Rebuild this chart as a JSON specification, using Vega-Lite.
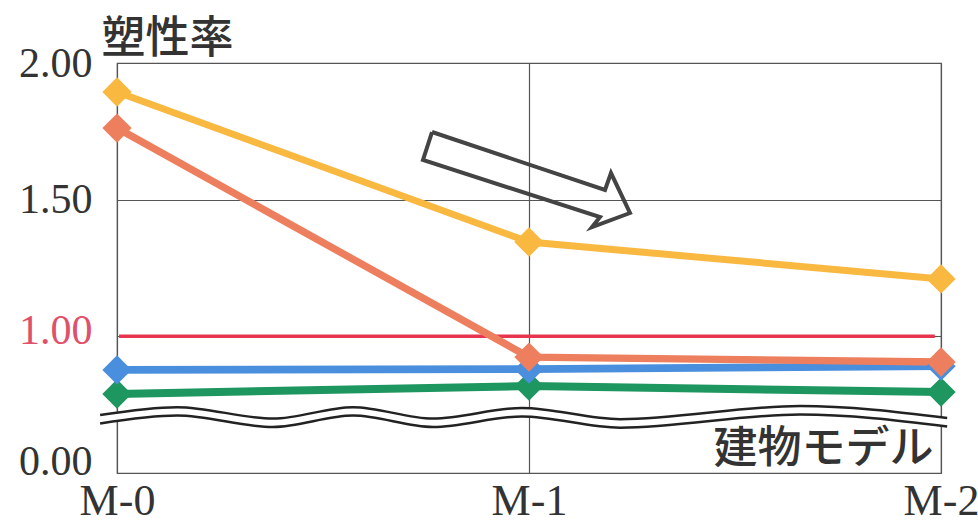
{
  "$schema": "https://vega.github.io/schema/vega-lite/v6.json",
  "width": 824,
  "height": 410,
  "autosize": {"type": "none"},
  "padding": {"left": 117, "top": 63, "right": 37, "bottom": 50},
  "background": "white",
  "config": {"view": {"stroke": "#555", "strokeWidth": 1.2}},
  "datasets": {
    "series": [
      {"x": 0, "y": 0.789, "s": "green"},
      {"x": 1, "y": 0.818, "s": "green"},
      {"x": 2, "y": 0.796, "s": "green"},
      {"x": 0, "y": 0.877, "s": "blue"},
      {"x": 1, "y": 0.880, "s": "blue"},
      {"x": 2, "y": 0.891, "s": "blue"},
      {"x": 0, "y": 1.762, "s": "salmon"},
      {"x": 1, "y": 0.924, "s": "salmon"},
      {"x": 2, "y": 0.906, "s": "salmon"},
      {"x": 0, "y": 1.894, "s": "yellow"},
      {"x": 1, "y": 1.345, "s": "yellow"},
      {"x": 2, "y": 1.210, "s": "yellow"}
    ],
    "ref": [
      {"x": 0.005, "y": 1.0},
      {"x": 1.985, "y": 1.0}
    ],
    "wave_area": [
      {"x": -0.041, "y": 0.712, "y2": 0.681},
      {"x": 0.146, "y": 0.741, "y2": 0.710},
      {"x": 0.379, "y": 0.699, "y2": 0.668},
      {"x": 0.573, "y": 0.741, "y2": 0.710},
      {"x": 0.767, "y": 0.699, "y2": 0.668},
      {"x": 0.983, "y": 0.738, "y2": 0.707},
      {"x": 1.221, "y": 0.697, "y2": 0.666},
      {"x": 1.658, "y": 0.745, "y2": 0.714},
      {"x": 2.015, "y": 0.701, "y2": 0.670}
    ],
    "wave_lines": [
      {"x": -0.041, "y": 0.712, "k": "u"},
      {"x": 0.146, "y": 0.741, "k": "u"},
      {"x": 0.379, "y": 0.699, "k": "u"},
      {"x": 0.573, "y": 0.741, "k": "u"},
      {"x": 0.767, "y": 0.699, "k": "u"},
      {"x": 0.983, "y": 0.738, "k": "u"},
      {"x": 1.221, "y": 0.697, "k": "u"},
      {"x": 1.658, "y": 0.745, "k": "u"},
      {"x": 2.015, "y": 0.701, "k": "u"},
      {"x": -0.041, "y": 0.681, "k": "l"},
      {"x": 0.146, "y": 0.710, "k": "l"},
      {"x": 0.379, "y": 0.668, "k": "l"},
      {"x": 0.573, "y": 0.710, "k": "l"},
      {"x": 0.767, "y": 0.668, "k": "l"},
      {"x": 0.983, "y": 0.707, "k": "l"},
      {"x": 1.221, "y": 0.666, "k": "l"},
      {"x": 1.658, "y": 0.714, "k": "l"},
      {"x": 2.015, "y": 0.670, "k": "l"}
    ],
    "arrow": [
      {"i": 0, "x": 0.7646, "y": 1.7475},
      {"i": 1, "x": 1.1845, "y": 1.5353},
      {"i": 2, "x": 1.199, "y": 1.5975},
      {"i": 3, "x": 1.2451, "y": 1.4512},
      {"i": 4, "x": 1.1529, "y": 1.3999},
      {"i": 5, "x": 1.1723, "y": 1.4365},
      {"i": 6, "x": 0.7427, "y": 1.6451},
      {"i": 7, "x": 0.7646, "y": 1.7475}
    ]
  },
  "encoding": {
    "x": {
      "field": "x",
      "type": "quantitative",
      "scale": {"domain": [0, 2], "nice": false, "zero": false},
      "axis": {
        "values": [0, 1, 2],
        "labelExpr": "'M-' + datum.value",
        "labelFont": "Liberation Serif",
        "labelFontSize": 44,
        "labelColor": "#333",
        "labelPadding": 6,
        "labelFlush": false,
        "labelOverlap": false,
        "ticks": false,
        "domain": false,
        "grid": true,
        "gridColor": "#555",
        "gridWidth": 1.2,
        "title": "建物モデル",
        "titleFont": "Noto Sans CJK JP",
        "titleFontSize": 44,
        "titleFontWeight": 500,
        "titleColor": "#333",
        "titleAngle": 0,
        "titleAlign": "right",
        "titleBaseline": "alphabetic",
        "titleX": 816,
        "titleY": -11
      }
    },
    "y": {
      "field": "y",
      "type": "quantitative",
      "scale": {"domain": [0.5, 2], "nice": false, "zero": false},
      "axis": {
        "values": [0.5, 1, 1.5, 2],
        "labelExpr": "datum.value == 0.5 ? '0.00' : format(datum.value, '.2f')",
        "labelFont": "Liberation Serif",
        "labelFontSize": 42,
        "labelColor": {"condition": {"test": "datum.value == 1", "value": "#E0506A"}, "value": "#333"},
        "labelOffset": {"condition": [{"test": "datum.value == 0.5", "value": -12}, {"test": "datum.value == 1", "value": -6}], "value": 0},
        "labelPadding": 25,
        "labelOverlap": false,
        "labelFlush": false,
        "ticks": false,
        "domain": false,
        "grid": true,
        "gridColor": "#555",
        "gridWidth": 1.2,
        "title": "塑性率",
        "titleFont": "Noto Sans CJK JP",
        "titleFontSize": 44,
        "titleFontWeight": 500,
        "titleColor": "#333",
        "titleAngle": 0,
        "titleAlign": "left",
        "titleBaseline": "alphabetic",
        "titleX": -16,
        "titleY": -11
      }
    }
  },
  "layer": [
    {
      "data": {"name": "wave_area"},
      "mark": {"type": "area", "interpolate": "monotone", "fill": "white", "opacity": 1, "fillOpacity": 1},
      "encoding": {"y2": {"field": "y2"}}
    },
    {
      "data": {"name": "wave_lines"},
      "mark": {"type": "line", "interpolate": "monotone", "stroke": "#222", "strokeWidth": 2.5},
      "encoding": {"detail": {"field": "k", "type": "nominal"}}
    },
    {
      "data": {"name": "ref"},
      "mark": {"type": "line", "stroke": "#E8344E", "strokeWidth": 3.5},
      "encoding": {}
    },
    {
      "data": {"name": "series"},
      "mark": {"type": "line"},
      "encoding": {
        "color": {"field": "s", "type": "nominal", "scale": {"domain": ["green", "blue", "salmon", "yellow"], "range": ["#1E9660", "#4A8FDD", "#EE7F5E", "#F9B840"]}, "legend": null},
        "strokeWidth": {"field": "s", "type": "ordinal", "scale": {"domain": ["green", "blue", "salmon", "yellow"], "range": [8, 7, 6, 6]}, "legend": null}
      }
    },
    {
      "data": {"name": "series"},
      "mark": {"type": "point", "shape": "diamond", "filled": true, "size": 860, "opacity": 1, "strokeWidth": 0},
      "encoding": {
        "color": {"field": "s", "type": "nominal", "scale": {"domain": ["green", "blue", "salmon", "yellow"], "range": ["#1E9660", "#4A8FDD", "#EE7F5E", "#F9B840"]}, "legend": null}
      }
    },
    {
      "data": {"name": "arrow"},
      "mark": {"type": "line", "stroke": "#444", "strokeWidth": 4, "strokeJoin": "miter"},
      "encoding": {"order": {"field": "i", "type": "quantitative"}}
    }
  ]
}
